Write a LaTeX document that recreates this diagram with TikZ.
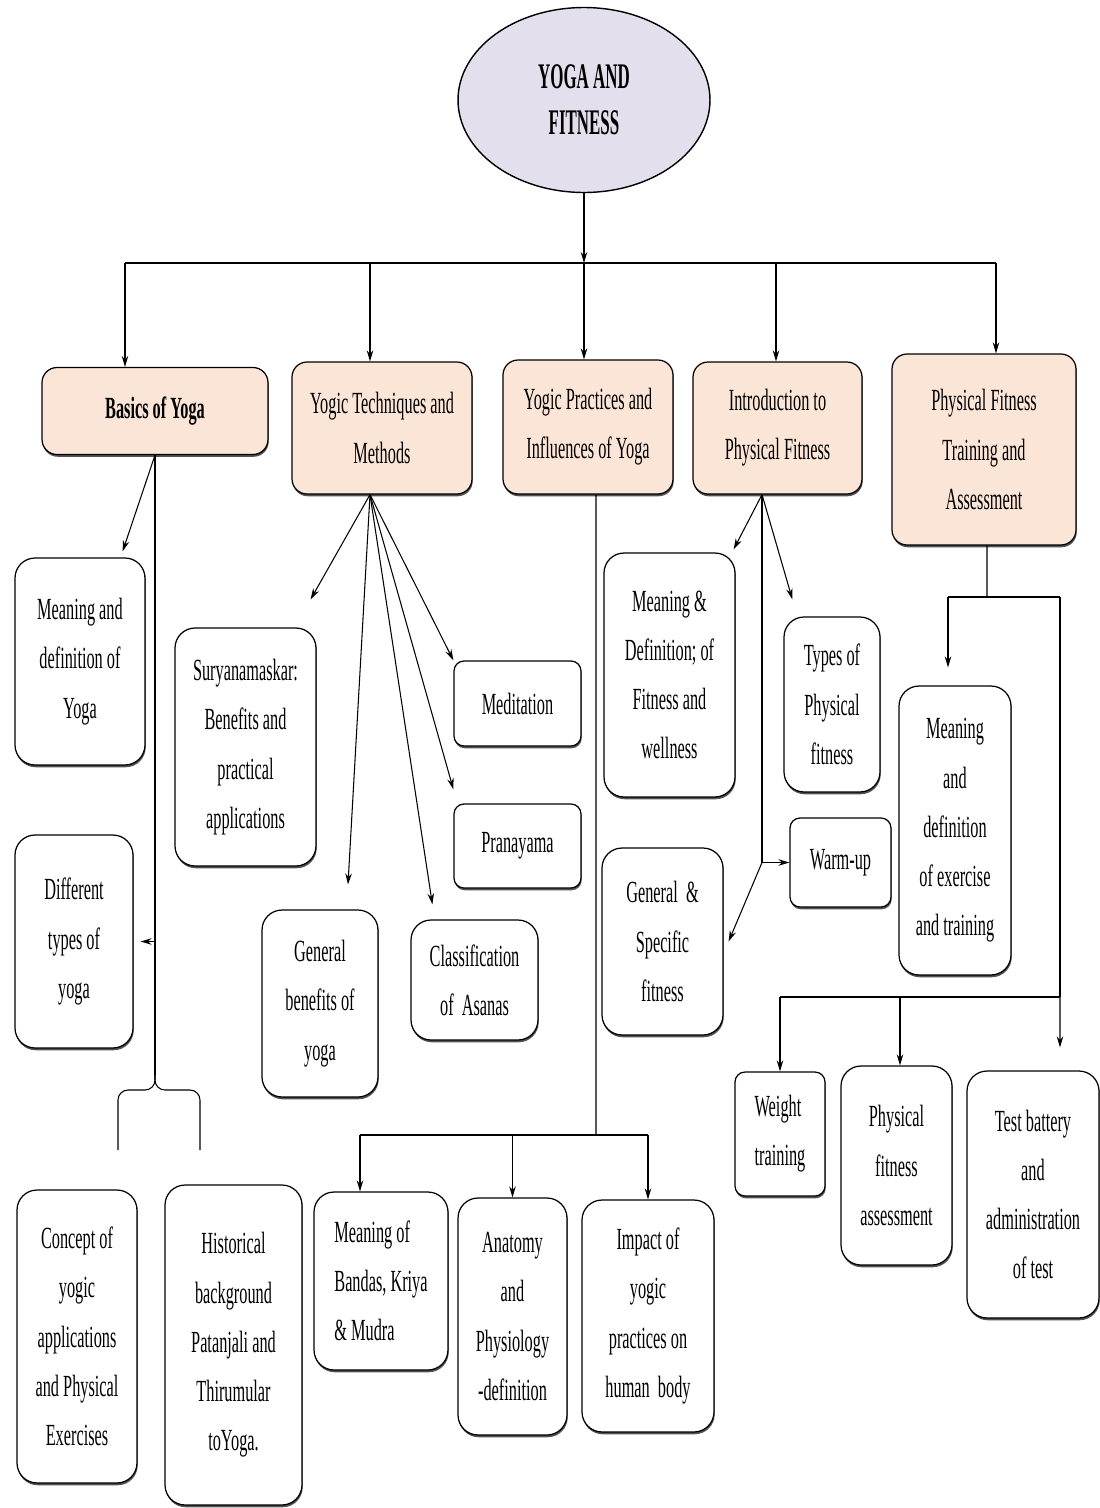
\documentclass[tikz,border=0pt]{standalone}
\usepackage{fontspec}
\setmainfont{Liberation Serif}[FakeStretch=0.53]
\newfontfamily\titlefont{Liberation Serif}[FakeStretch=0.47]
\usepackage{tikz}
\usetikzlibrary{shapes.geometric,arrows.meta,positioning,shadows}
\definecolor{peach}{HTML}{FBE5D6}
\definecolor{lavender}{HTML}{E4DFEC}

\begin{document}
\begin{tikzpicture}[
    x=0.02cm, y=-0.02cm,
    >={Stealth[length=2.2mm,width=1.3mm]},
    font=\fontsize{17.5}{28}\selectfont,
    basebox/.style={draw, line width=0.7pt, align=center, inner sep=2pt, drop shadow={shadow xshift=0.4pt, shadow yshift=-1.3pt, fill=black!75, opacity=0.9}},
    topbox/.style={basebox, rounded corners=0.3cm, fill=peach},
    subbox/.style={basebox, rounded corners=0.4cm, fill=white},
    smallbox/.style={basebox, rounded corners=0.2cm, fill=white},
    titleell/.style={draw, ellipse, fill=lavender, line width=0.8pt, align=center, font=\titlefont\fontsize{20.5}{26}\selectfont\bfseries},
    arrow/.style={->, line width=0.6pt},
    link/.style={line width=0.6pt},
    thickbar/.style={line width=1.5pt},
    medbar/.style={line width=1.1pt},
]
\useasboundingbox (0,0) rectangle (1099,1508);

% Title
\node[titleell, minimum width=5.04cm, minimum height=3.7cm] (title) at (584,100) {YOGA AND\\FITNESS};

% Main topics
\node[topbox, minimum width=4.52cm, minimum height=1.74cm, font=\fontsize{17.5}{28}\selectfont\bfseries] (basics) at (155,411) {Basics of Yoga};
\node[topbox, minimum width=3.6cm, minimum height=2.64cm] (tech) at (382,428) {Yogic Techniques and\\Methods};
\node[topbox, minimum width=3.4cm, minimum height=2.68cm] (pract) at (588,427) {Yogic Practices and\\Influences of Yoga};
\node[topbox, minimum width=3.38cm, minimum height=2.64cm] (intro) at (777.5,428) {Introduction to\\Physical Fitness};
\node[topbox, minimum width=3.68cm, minimum height=3.82cm] (train) at (984,449.5) {Physical Fitness\\Training and\\Assessment};

% Basics of Yoga
\node[subbox, minimum width=2.6cm, minimum height=4.14cm] (meanyoga) at (80,661.5) {Meaning and\\definition of\\Yoga};
\node[subbox, minimum width=2.36cm, minimum height=4.26cm] (typesyoga) at (74,941.5) {Different\\types of\\yoga};
\node[subbox, minimum width=2.4cm, minimum height=5.86cm] (concept) at (77,1336.5) {Concept of\\yogic\\applications\\and Physical\\Exercises};
\node[subbox, minimum width=2.74cm, minimum height=6.4cm] (hist) at (233.5,1345) {Historical\\background\\Patanjali and\\Thirumular\\toYoga.};

% Yogic Techniques and Methods
\node[subbox, minimum width=2.82cm, minimum height=4.76cm] (surya) at (245.5,747) {Suryanamaskar:\\Benefits and\\practical\\applications};
\node[smallbox, minimum width=2.54cm, minimum height=1.7cm] (medit) at (517.5,703.5) {Meditation};
\node[smallbox, minimum width=2.54cm, minimum height=1.68cm] (prana) at (517.5,846) {Pranayama};
\node[subbox, minimum width=2.32cm, minimum height=3.74cm] (genben) at (320,1003.5) {General\\benefits of\\yoga};
\node[subbox, minimum width=2.54cm, minimum height=2.4cm] (classif) at (474.5,980) {Classification\\of\ \ Asanas};

% Yogic Practices and Influences of Yoga
\node[subbox, minimum width=2.68cm, minimum height=3.56cm, align=left] (bandas) at (381,1281) {Meaning of\\Bandas, Kriya\\\& Mudra};
\node[subbox, minimum width=2.18cm, minimum height=4.74cm] (anatomy) at (512.5,1316.5) {Anatomy\\and\\Physiology\\-definition};
\node[subbox, minimum width=2.64cm, minimum height=4.64cm] (impact) at (648,1316) {Impact of\\yogic\\practices on\\human\ \ body};

% Introduction to Physical Fitness
\node[subbox, minimum width=2.62cm, minimum height=4.88cm] (meanfit) at (669.5,675) {Meaning \&\\Definition; of\\Fitness and\\wellness};
\node[subbox, minimum width=1.92cm, minimum height=3.5cm] (typesfit) at (832,704.5) {Types of\\Physical\\fitness};
\node[smallbox, minimum width=2.02cm, minimum height=1.78cm] (warmup) at (840.5,862.5) {Warm-up};
\node[subbox, minimum width=2.42cm, minimum height=3.74cm] (genspec) at (662.5,941.5) {General\ \ \&\\Specific\\fitness};

% Physical Fitness Training and Assessment
\node[subbox, minimum width=2.24cm, minimum height=5.78cm] (meanex) at (955,830.5) {Meaning\\and\\definition\\of exercise\\and training};
\node[smallbox, minimum width=1.8cm, minimum height=2.48cm, align=left] (weight) at (780,1134) {Weight\\training};
\node[subbox, minimum width=2.22cm, minimum height=3.98cm] (pfa) at (896.5,1165.5) {Physical\\fitness\\assessment};
\node[subbox, minimum width=2.64cm, minimum height=4.94cm] (testbat) at (1033,1194.5) {Test battery\\and\\administration\\of test};

% Top level bar
\coordinate (bar) at (584,263);
\coordinate (barL) at (125,263);
\coordinate (barR) at (996,263);
\draw[arrow] (title) -- (title |- bar);
\draw[thickbar] (barL) -- (barR);
\draw[arrow] (barL) -- (barL |- basics.north);
\draw[arrow] ([xshift=-0.24cm]tech.north |- bar) -- ([xshift=-0.24cm]tech.north);
\draw[arrow] ([xshift=-0.08cm]pract.north |- bar) -- ([xshift=-0.08cm]pract.north);
\draw[arrow] ([xshift=-0.03cm]intro.north |- bar) -- ([xshift=-0.03cm]intro.north);
\draw[arrow] (barR) -- (barR |- train.north);

% Basics branch with brace
\coordinate (brace) at (155,1075);
\coordinate (braceL) at (118,1150);
\coordinate (braceR) at (200,1150);
\draw[link] (basics.south) -- (brace);
\draw[arrow] (basics.south) -- ([xshift=-0.46cm,yshift=0.12cm]meanyoga.north east);
\draw[arrow] (basics.south |- typesyoga.east) -- ([xshift=0.14cm]typesyoga.east);
\draw[link, rounded corners=0.2cm] (brace) -- ++(0,15) -| (braceL);
\draw[link, rounded corners=0.2cm] (brace) -- ++(0,15) -| (braceR);

% Techniques fan
\coordinate (tfan) at ([xshift=-0.24cm]tech.south);
\draw[arrow] (tfan) -- ([xshift=-0.12cm,yshift=0.56cm]surya.north east);
\draw[arrow] (tfan) -- ([xshift=0.56cm,yshift=0.5cm]genben.north);
\draw[arrow] (tfan) -- ([xshift=0.44cm,yshift=0.3cm]classif.north west);
\draw[arrow] (tfan) -- ([yshift=0.28cm]prana.north west);
\draw[arrow] (tfan) -- (medit.north west);

% Practices branch
\coordinate (pbar) at (596,1135);
\draw[link] ([xshift=0.16cm]pract.south) -- (pbar);
\draw[thickbar] ([xshift=-0.42cm]bandas.north |- pbar) -- (impact.north |- pbar);
\draw[arrow] ([xshift=-0.42cm]bandas.north |- pbar) -- ([xshift=-0.42cm]bandas.north);
\draw[arrow] (anatomy.north |- pbar) -- (anatomy.north);
\draw[arrow] (impact.north |- pbar) -- (impact.north);

% Introduction branch
\coordinate (ifan) at ([xshift=-0.31cm]intro.south);
\draw[arrow] (ifan) -- ([xshift=-0.04cm,yshift=0.06cm]meanfit.north east);
\draw[arrow] (ifan) -- ([xshift=0.18cm,yshift=0.34cm]typesfit.north west);
\draw[link] (ifan) -- (ifan |- warmup.west);
\draw[arrow] (ifan |- warmup.west) -- (warmup.west);
\draw[arrow] (ifan |- warmup.west) -- ([xshift=0.1cm]genspec.east);

% Training branch
\coordinate (tbar) at (987,597);
\coordinate (tbarR) at (1060,597);
\coordinate (fbar) at (1060,997);
\draw[link] ([xshift=0.06cm]train.south) -- (tbar);
\draw[medbar] ([xshift=-0.14cm]meanex.north |- tbar) -- (tbarR);
\draw[arrow] ([xshift=-0.14cm]meanex.north |- tbar) -- ([xshift=-0.14cm,yshift=0.36cm]meanex.north);
\draw[link] (tbarR) -- (fbar);
\draw[medbar] (weight.north |- fbar) -- (fbar);
\draw[arrow] (weight.north |- fbar) -- (weight.north);
\draw[arrow] ([xshift=0.07cm]pfa.north |- fbar) -- ([xshift=0.07cm]pfa.north);
\draw[arrow] (fbar) -- ([xshift=0.54cm,yshift=0.46cm]testbat.north);

\end{tikzpicture}
\end{document}
